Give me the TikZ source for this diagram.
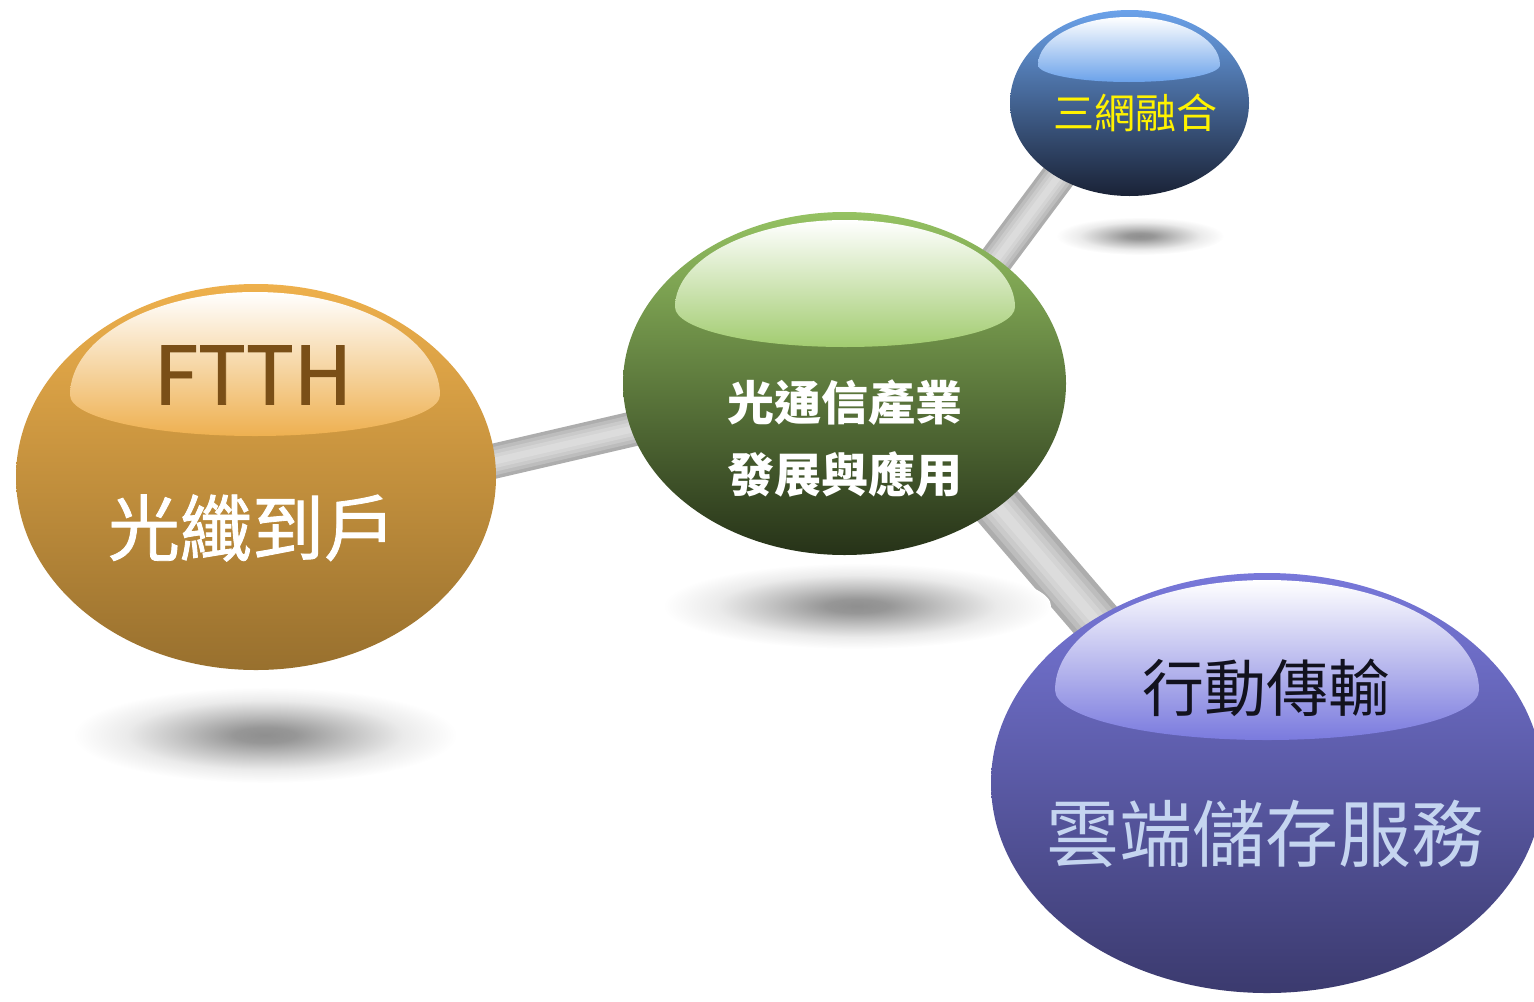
\documentclass[tikz,border=0pt]{standalone}
\usepackage{fontspec}
\setmainfont{Noto Sans CJK TC}
\newfontfamily\cjkmed[FakeBold=1.2]{Noto Sans CJK TC}
\usetikzlibrary{shapes.geometric,backgrounds}

\definecolor{orTop}{HTML}{EEB04C}
\definecolor{orMid}{HTML}{D39B40}
\definecolor{orBot}{HTML}{98702E}
\definecolor{orHi}{HTML}{EEB050}
\definecolor{grTop}{HTML}{95C262}
\definecolor{grMid}{HTML}{76984A}
\definecolor{grBot}{HTML}{263218}
\definecolor{grHi}{HTML}{A2CC70}
\definecolor{blTop}{HTML}{6BA2EA}
\definecolor{blMid}{HTML}{4B74B2}
\definecolor{blBot}{HTML}{1A2236}
\definecolor{blHi}{HTML}{6BA2EA}
\definecolor{puTop}{HTML}{7878DA}
\definecolor{puMid}{HTML}{5C5CB2}
\definecolor{puBot}{HTML}{3B3A6E}
\definecolor{puHi}{HTML}{7A7ADE}
\definecolor{ftthBrown}{HTML}{7A4F17}
\definecolor{cloudBlue}{HTML}{C5D5F0}
\definecolor{darkInk}{HTML}{12121E}
\definecolor{tubeA}{HTML}{ADADAD}
\definecolor{tubeB}{HTML}{BDBDBD}
\definecolor{tubeC}{HTML}{CACACA}
\definecolor{tubeD}{HTML}{D4D4D4}
\definecolor{tubeE}{HTML}{DCDCDC}

\pgfdeclareradialshading{softshadow}{\pgfpoint{0bp}{0bp}}{%
  color(0bp)=(black!44); color(4bp)=(black!41); color(11bp)=(black!24);
  color(18bp)=(black!8); color(25bp)=(white); color(50bp)=(white)}

% glossy highlight: xc, y of widest line, half width, top height, bottom height, colour
\newcommand{\glosscap}[6]{%
  \shade[top color=white, bottom color=#6]
    ({#1-#3},#2) .. controls ({#1-#3},{#2-0.5523*#4}) and ({#1-0.5523*#3},{#2-#4}) ..
    (#1,{#2-#4}) .. controls ({#1+0.5523*#3},{#2-#4}) and ({#1+#3},{#2-0.5523*#4}) ..
    ({#1+#3},#2) .. controls ({#1+#3},{#2+0.5523*#5}) and ({#1+0.5523*#3},{#2+#5}) ..
    (#1,{#2+#5}) .. controls ({#1-0.5523*#3},{#2+#5}) and ({#1-#3},{#2+0.5523*#5}) ..
    ({#1-#3},#2) -- cycle;}

% cylinder-like connector: from, to, width (pt)
\newcommand{\tubedraw}[3]{%
  \foreach \f/\c in {1/tubeA,0.8/tubeB,0.6/tubeC,0.4/tubeD,0.2/tubeE}{%
    \draw[line width=\f*#3pt, color=\c] (#1) -- (#2);}}

\tikzset{
  ball/.style={ellipse, inner sep=0pt, outer sep=0pt, draw=none},
  shadowblob/.style={shading=softshadow}
}

\begin{document}
\begin{tikzpicture}[x=0.5pt, y=-0.5pt]
\useasboundingbox (0,0) rectangle (1534,1001);

% balls
\node[ball, minimum width=240pt, minimum height=193pt,
      top color=orTop, middle color=orMid, bottom color=orBot] (fo) at (256,477) {};
\node[ball, minimum width=221.5pt, minimum height=171.5pt,
      top color=grTop, middle color=grMid, bottom color=grBot] (gr) at (844.5,383.5) {};
\node[ball, minimum width=119.5pt, minimum height=93pt,
      top color=blTop, middle color=blMid, bottom color=blBot] (bl) at (1129.5,103) {};
\node[ball, minimum width=276pt, minimum height=210pt,
      top color=puTop, middle color=puMid, bottom color=puBot] (pu) at (1267,783) {};

% glossy highlights
\glosscap{255}{395}{185}{103}{41}{orHi}
\glosscap{845}{307}{170}{87}{40}{grHi}
\glosscap{1129}{65}{91}{48}{17}{blHi}
\glosscap{1267}{690}{212}{110}{50}{puHi}

% texts
\node[font=\cjkmed\fontsize{40}{40}\selectfont, text=ftthBrown] (tftth) at (253,375) {FTTH};
\node[font=\cjkmed\fontsize{36}{36}\selectfont, text=white] (tfiber) at (252,528) {光纖到戶};
\node[font=\fontsize{23.5}{36}\selectfont\bfseries, text=white, align=center]
     (tcore) at (845,439) {光通信產業\\發展與應用};
\node[font=\fontsize{20.5}{20.5}\selectfont, text=yellow] (tnet) at (1135,113) {三網融合};
\node[font=\fontsize{31}{31}\selectfont, text=darkInk] (tmob) at (1266,688) {行動傳輸};
\node[font=\fontsize{36.5}{36.5}\selectfont, text=cloudBlue] (tcloud) at (1265,834) {雲端儲存服務};

% connector ends (hidden under the balls)
\coordinate (cA1) at (470.6,466.6);
\coordinate (cA2) at (654,424);
\coordinate (cB1) at (979.6,282);
\coordinate (cB2) at (1081.4,145.4);
\coordinate (cC1) at (975,480);
\coordinate (cC2) at (1140,672);

\begin{scope}[on background layer]
  \tubedraw{cA1}{cA2}{17.5}
  \tubedraw{cB1}{cB2}{17}
  \tubedraw{cC1}{cC2}{25}
  % shadows
  \shade[shadowblob] (265,735) ellipse [x radius=192, y radius=48];
  \shade[shadowblob] (857,606) ellipse [x radius=194, y radius=43];
  \shade[shadowblob] (1140,236) ellipse [x radius=84, y radius=19];
\end{scope}
\end{tikzpicture}
\end{document}
